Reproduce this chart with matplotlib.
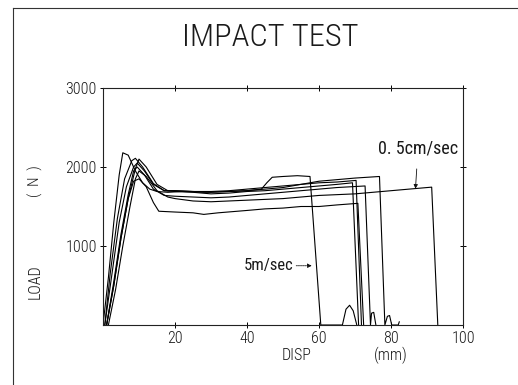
import matplotlib
matplotlib.use("Agg")
import matplotlib.pyplot as plt
from matplotlib.lines import Line2D
from matplotlib import font_manager

# ---------------- data ----------------
title = "IMPACT TEST"
xlabel_main = "DISP"
xlabel_unit = "(mm)"
ylabel_main = "LOAD"
ylabel_unit = "(  N  )"
x_ticks = [20, 40, 60, 80, 100]
y_ticks = [1000, 2000, 3000]

# 5 m/sec curve
c1_x = [0, 1.5, 3, 4.5, 5.5, 7, 9, 11, 13, 15, 18, 22, 28, 35, 40, 44, 45.5, 47, 50, 54, 57.5, 60.5, 66.5, 67.5, 68.5, 69.5, 70.5]
c1_y = [0, 600, 1300, 1900, 2180, 2150, 1950, 1800, 1720, 1690, 1680, 1690, 1680, 1690, 1700, 1720, 1800, 1870, 1880, 1890, 1880, 0, 0, 200, 250, 180, 0]
# curve ending ~69.5 mm
c2_x = [0.5, 2, 4, 6, 8, 9, 11, 14, 17, 20, 25, 30, 35, 40, 45, 50, 55, 60, 65, 69.3, 71.0]
c2_y = [0, 650, 1350, 1850, 2080, 2110, 2000, 1790, 1700, 1690, 1680, 1660, 1670, 1690, 1700, 1720, 1740, 1760, 1780, 1800, 0]
# curve ending ~70.5 mm
c3_x = [0.5, 2.5, 4.5, 6.5, 8.5, 9.5, 11.5, 14, 17, 20, 25, 30, 35, 40, 45, 50, 55, 60, 65, 70.3, 71.8]
c3_y = [0, 650, 1300, 1750, 2000, 2050, 1950, 1780, 1700, 1700, 1690, 1690, 1700, 1720, 1740, 1760, 1780, 1800, 1810, 1830, 0]
# lowest curve, ending ~71 mm
c4_x = [1, 3, 5, 7, 8.5, 10, 12, 14, 15.5, 20, 25, 28, 32, 40, 45, 50, 55, 60, 65, 70.8, 72.4]
c4_y = [0, 500, 1100, 1600, 1820, 1850, 1750, 1550, 1440, 1430, 1420, 1400, 1420, 1450, 1470, 1480, 1500, 1500, 1520, 1540, 0]
# curve ending ~73 mm
c5_x = [1, 3, 5, 7, 8.5, 9.5, 11.5, 14, 17, 20, 25, 30, 35, 40, 45, 50, 55, 60, 65, 72.8, 74.3, 74.6, 75.2, 75.8]
c5_y = [0, 550, 1150, 1650, 1950, 2000, 1900, 1720, 1640, 1630, 1620, 1610, 1620, 1640, 1660, 1680, 1700, 1720, 1740, 1760, 0, 150, 160, 0]
# curve ending ~77 mm
c6_x = [1, 3, 5, 7, 9, 10, 12, 15, 18, 20, 25, 30, 35, 40, 45, 50, 55, 60, 65, 70, 76.8, 78.3, 79.0, 79.6, 80.2, 82.0, 82.3]
c6_y = [0, 500, 1100, 1600, 1980, 2100, 2000, 1780, 1700, 1700, 1690, 1680, 1690, 1700, 1720, 1740, 1780, 1820, 1840, 1860, 1880, 0, 110, 120, 0, 0, 40]
# 0.5 cm/sec curve, ending ~91.5 mm
c7_x = [1.5, 3.5, 5.5, 7.5, 9, 10, 12, 15, 18, 20, 25, 30, 35, 40, 45, 50, 55, 60, 65, 70, 75, 80, 85, 91.3, 93.0]
c7_y = [0, 450, 1000, 1500, 1850, 1950, 1880, 1700, 1620, 1600, 1570, 1560, 1570, 1580, 1590, 1600, 1620, 1640, 1650, 1660, 1680, 1700, 1720, 1745, 0]

curves_x = [c1_x, c2_x, c3_x, c4_x, c5_x, c6_x, c7_x]
curves_y = [c1_y, c2_y, c3_y, c4_y, c5_y, c6_y, c7_y]

label_slow = "0. 5cm/sec"
label_fast = "5m/sec"

# ---------------- fonts ----------------
names = {f.name for f in font_manager.fontManager.ttflist}
narrow = "DejaVu Sans"
for cand in ["Roboto Condensed", "Liberation Sans Narrow", "Archivo Narrow",
             "PT Sans Narrow", "Encode Sans Condensed", "Open Sans Condensed",
             "DejaVu Sans Condensed"]:
    if cand in names:
        narrow = cand
        break
TXT = "#1a1a1a"
FW = "light"

fig = plt.figure(figsize=(5.18, 3.85), dpi=100)
ax = fig.add_axes([103/518, 60/385, 360/518, 237/385])
renderer = fig.canvas.get_renderer()


def fit_text(x, y, s, target_w, rotation=0, **kw):
    """place text, scaling its size so its width (pixels) matches target."""
    t = fig.text(x, y, s, ha="center", va="center", rotation=rotation,
                 fontfamily=narrow, fontweight=FW, fontsize=10, color=TXT, **kw)
    bb = t.get_window_extent(renderer)
    w = bb.height if rotation else bb.width
    t.set_fontsize(10 * target_w / w)
    return t


for xs, ys in zip(curves_x, curves_y):
    ax.plot(xs, ys, color="black", lw=0.8)

ax.set_xlim(0, 100)
ax.set_ylim(0, 3000)
ax.set_xticks(x_ticks)
ax.set_yticks(y_ticks)
ax.set_xticklabels([str(v) for v in x_ticks], fontfamily=narrow, fontweight=FW, fontsize=11.5, color=TXT)
ax.set_yticklabels([str(v) for v in y_ticks], fontfamily=narrow, fontweight=FW, fontsize=11.5, color=TXT)
ax.tick_params(axis="both", direction="inout", length=5, width=0.7,
               top=True, right=True, pad=2)
for s in ax.spines.values():
    s.set_linewidth(0.8)
    s.set_color("#222222")

fit_text(270/518, 1 - 37/385, title, 176)
fig.text(297/518, 1 - 355/385, xlabel_main, ha="center", va="center",
         fontfamily=narrow, fontweight=FW, fontsize=11.5, color=TXT)
fig.text(391/518, 1 - 355/385, xlabel_unit, ha="center", va="center",
         fontfamily=narrow, fontweight=FW, fontsize=11.5, color=TXT)
fig.text(35/518, 1 - 282/385, ylabel_main, ha="center", va="center", rotation=90,
         fontfamily=narrow, fontweight=FW, fontsize=11.5, color=TXT)
fig.text(35/518, 1 - 181/385, ylabel_unit, ha="center", va="center", rotation=90,
         fontfamily=narrow, fontweight=FW, fontsize=11, color=TXT)

# annotations
ax.annotate(label_slow, xy=(86.8, 1725), xytext=(87.5, 2230), ha="center", va="center",
            fontfamily=narrow, fontsize=13, color=TXT,
            arrowprops=dict(arrowstyle="-|>", lw=0.6, color="#111111",
                            mutation_scale=6, shrinkA=6, shrinkB=0))
ax.annotate(label_fast, xy=(58.0, 750), xytext=(46.0, 750), ha="center", va="center",
            fontfamily=narrow, fontsize=12, color=TXT,
            arrowprops=dict(arrowstyle="-|>", lw=0.6, ls=(0, (1.5, 1)), color="#111111",
                            mutation_scale=6, shrinkA=16, shrinkB=0))

# outer frame lines (top and left)
fig.add_artist(Line2D([13/518, 1.0], [1 - 8/385, 1 - 8/385], color="#333333", lw=0.8))
fig.add_artist(Line2D([13/518, 13/518], [1 - 8/385, 0.0], color="#333333", lw=0.8))

fig.savefig("out.png", dpi=100)
